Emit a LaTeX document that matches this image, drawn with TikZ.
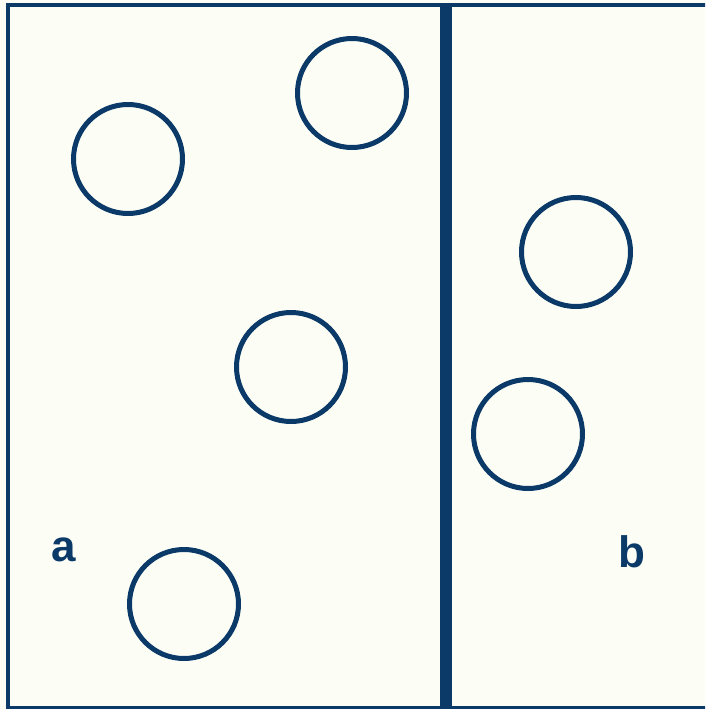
\documentclass[tikz,border=0pt]{standalone}
\usepackage{fontspec}
\setsansfont{Liberation Sans}
\usepackage{xcolor}
\usepackage{tikz}
\definecolor{navy}{HTML}{0B3A68}
\definecolor{paper}{HTML}{FCFDF5}
\tikzset{
  boxline/.style={draw=navy, line width=4.5pt},
  wallline/.style={draw=navy, line width=12pt},
  particle/.style={circle, draw=navy, line width=5pt, fill=none,
    minimum size=109pt, inner sep=0pt},
  sidelabel/.style={anchor=base, text=navy,
    font=\sffamily\bfseries\fontsize{44}{50}\selectfont}
}

\begin{document}
\begin{tikzpicture}[x=1pt, y=-1pt]
  \clip (0,0) rectangle (705,709);
  \fill[paper] (0,0) rectangle (705,709);

  % container and partition
  \coordinate (tl) at (8,5);
  \coordinate (br) at (730,708);
  \draw[boxline] (tl) rectangle (br);
  \coordinate (walltop) at (446,5);
  \coordinate (wallbot) at (446,709);
  \draw[wallline] (walltop) -- (wallbot);

  % particles, side a
  \node[particle] (a1) at (128,159) {};
  \node[particle] (a2) at (352,93) {};
  \node[particle] (a3) at (291,367) {};
  \node[particle] (a4) at (184,604) {};
  % particles, side b
  \node[particle] (b1) at (576,252) {};
  \node[particle] (b2) at (528,434) {};

  \node[sidelabel] (labela) at (64,561) {a};
  \node[sidelabel] (labelb) at (632,567) {b};
\end{tikzpicture}
\end{document}
